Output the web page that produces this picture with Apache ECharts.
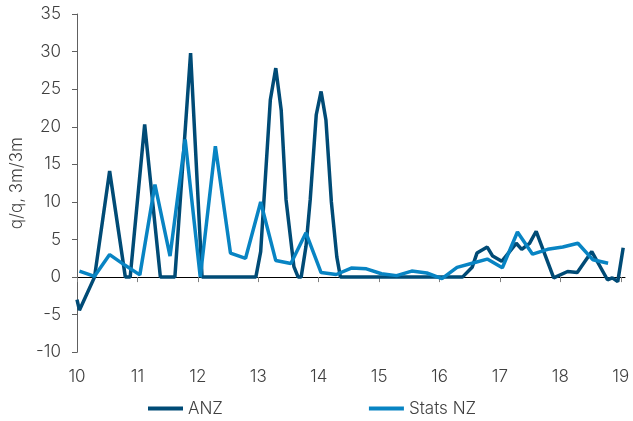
<!DOCTYPE html>
<html lang="en">

<head>
  <meta charset="utf-8" />
  <title></title>
  <script src="https://registry.npmmirror.com/echarts/6.0.0/files/dist/echarts.min.js"></script>
  <style>
    * {
      margin: 0;
      padding: 0;
    }

    #chart-container {
      position: relative;
      width: 633px;
      height: 421px;
      overflow: hidden;
      background: #fff;
    }
  </style>
</head>

<body>
  <div id="chart-container"></div>

  <script>
    // x = year (10 = 2010), decimal fraction for position in the year
    var anzX = [10.00, 10.04, 10.29, 10.54, 10.80, 10.88, 11.12, 11.38, 11.62, 11.88,
      12.07, 12.96, 13.04, 13.20, 13.29, 13.38, 13.46, 13.59, 13.66, 13.71,
      13.79, 13.86, 13.96, 14.04, 14.12, 14.21, 14.30, 14.36, 16.38, 16.54,
      16.62, 16.79, 16.88, 17.03, 17.27, 17.36, 17.49, 17.60, 17.89, 18.12,
      18.28, 18.52, 18.78, 18.86, 18.95, 19.04];
    var anzY = [-3.0, -4.4, 0, 14.1, 0, 0, 20.3, 0, 0, 29.8,
      0, 0, 3.4, 23.6, 27.8, 22.2, 10.3, 1.4, 0, 0,
      4.1, 10.3, 21.6, 24.7, 20.9, 10.0, 2.7, 0, 0, 1.3,
      3.2, 4.0, 2.8, 2.1, 4.5, 3.7, 4.5, 6.1, -0.1, 0.75,
      0.6, 3.4, -0.35, -0.1, -0.6, 3.9];

    // Stats NZ is quarterly
    var statsX = [10.04, 10.29, 10.54, 10.79, 11.04, 11.29, 11.54, 11.79, 12.04, 12.29,
      12.54, 12.79, 13.04, 13.29, 13.54, 13.79, 14.04, 14.29, 14.54, 14.79,
      15.04, 15.29, 15.54, 15.79, 16.04, 16.29, 16.54, 16.79, 17.04, 17.29,
      17.54, 17.79, 18.04, 18.29, 18.54, 18.79];
    var statsY = [0.8, 0.1, 3.0, 1.6, 0.3, 12.3, 2.8, 18.3, 0, 17.4,
      3.2, 2.5, 10.0, 2.2, 1.8, 5.9, 0.6, 0.35, 1.2, 1.1,
      0.45, 0.2, 0.8, 0.55, -0.2, 1.3, 1.85, 2.4, 1.25, 6.0,
      3.05, 3.7, 4.0, 4.5, 2.3, 1.85];

    var xTicks = [10, 11, 12, 13, 14, 15, 16, 17, 18, 19];
  </script>

  <script>
    var dom = document.getElementById("chart-container");
    var myChart = echarts.init(dom, null, {
      renderer: "canvas",
      useDirtyRect: false,
    });

    var font = "Inter";
    var textColor = "#404040";
    var textStyle = { fontFamily: font, fontSize: 17, fontWeight: 300, color: textColor };

    var pairs = (xs, ys) => xs.map((x, i) => [x, ys[i]]);

    var option = {
      animation: false,
      grid: {
        left: 75.5,
        right: 8,
        top: 14,
        bottom: 68.7,
        containLabel: false,
      },
      legend: {
        left: 148,
        top: 400,
        padding: 0,
        icon: "rect",
        itemWidth: 35,
        itemHeight: 4,
        itemGap: 146,
        textStyle: textStyle,
        data: ["ANZ", "Stats NZ"],
      },
      xAxis: [
        {
          type: "value",
          min: 10,
          max: 19.07,
          axisLine: { show: false, onZero: false },
          axisTick: { show: false },
          splitLine: { show: false },
          axisLabel: Object.assign({ customValues: xTicks, margin: 16 }, textStyle),
        },
        {
          type: "value",
          position: "bottom",
          min: 10,
          max: 19.07,
          axisLine: { show: true, onZero: true, lineStyle: { color: "#000", width: 1 } },
          axisTick: { show: true, customValues: xTicks, length: 5, lineStyle: { color: "#808080" } },
          axisLabel: { show: false },
          splitLine: { show: false },
        },
      ],
      yAxis: {
        type: "value",
        min: -10,
        max: 35,
        interval: 5,
        name: "q/q, 3m/3m",
        nameLocation: "middle",
        nameGap: 52,
        nameTextStyle: textStyle,
        axisLine: { show: true, lineStyle: { color: "#606060", width: 1 } },
        axisTick: { show: true, length: 5, lineStyle: { color: "#606060" } },
        splitLine: { show: false },
        axisLabel: Object.assign({ margin: 16 }, textStyle),
      },
      series: [
        {
          name: "ANZ",
          type: "line",
          data: pairs(anzX, anzY),
          showSymbol: false,
          lineStyle: { color: "#004b76", width: 3.5 },
          itemStyle: { color: "#004b76" },
        },
        {
          name: "Stats NZ",
          type: "line",
          data: pairs(statsX, statsY),
          showSymbol: false,
          lineStyle: { color: "#0884c3", width: 3.5 },
          itemStyle: { color: "#0884c3" },
        },
      ],
    };

    if (option && typeof option === "object") {
      myChart.setOption(option);
    }

    window.addEventListener("resize", myChart.resize);
  </script>
</body>

</html>
